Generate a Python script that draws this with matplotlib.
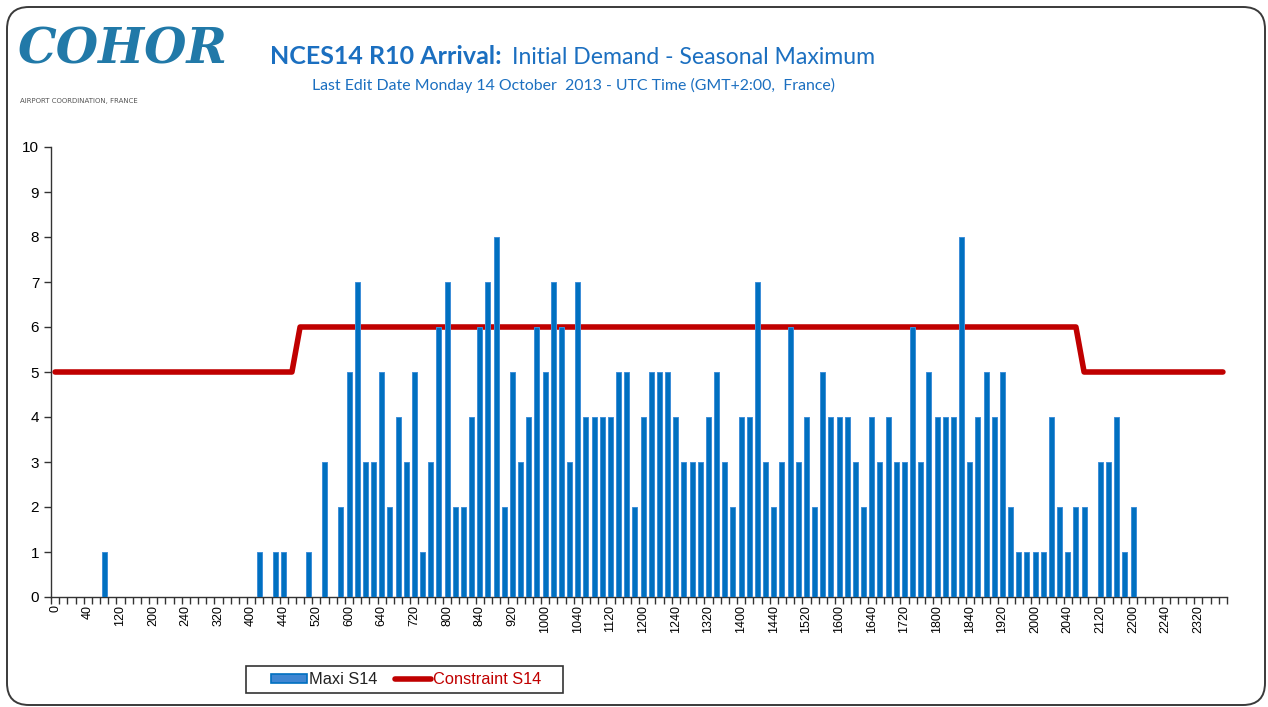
import matplotlib.pyplot as plt
import numpy as np
from matplotlib.patches import FancyBboxPatch, Patch, Rectangle
from matplotlib.lines import Line2D

# 10-minute slots, labelled as HHMM without leading zeros
slots = [h * 100 + m for h in range(24) for m in range(0, 60, 10)]
slot_labels = [str(s) for s in slots]

# Maxi S14 - seasonal maximum demand per 10 min slot
demand = [0, 0, 0, 0, 0, 0, 1, 0, 0, 0, 0, 0,          # 0000-0150
          0, 0, 0, 0, 0, 0, 0, 0, 0, 0, 0, 0,          # 0200-0350
          0, 1, 0, 1, 1, 0, 0, 1, 0, 3, 0, 2,          # 0400-0550
          5, 7, 3, 3, 5, 2, 4, 3, 5, 1, 3, 6,          # 0600-0750
          7, 2, 2, 4, 6, 7, 8, 2, 5, 3, 4, 6,          # 0800-0950
          5, 7, 6, 3, 7, 4, 4, 4, 4, 5, 5, 2,          # 1000-1150
          4, 5, 5, 5, 4, 3, 3, 3, 4, 5, 3, 2,          # 1200-1350
          4, 4, 7, 3, 2, 3, 6, 3, 4, 2, 5, 4,          # 1400-1550
          4, 4, 3, 2, 4, 3, 4, 3, 3, 6, 3, 5,          # 1600-1750
          4, 4, 4, 8, 3, 4, 5, 4, 5, 2, 1, 1,          # 1800-1950
          1, 1, 4, 2, 1, 2, 2, 0, 3, 3, 4, 1,          # 2000-2150
          2, 0, 0, 0, 0, 0, 0, 0, 0, 0, 0, 0]          # 2200-2350

# Constraint S14 - declared capacity per slot
constraint = [5] * 30 + [6] * 96 + [5] * 18

blue = '#0070C0'
red = '#C00000'
title_col = '#1B6FC0'
W, H = 1268, 707

fig = plt.figure(figsize=(12.68, 7.07), dpi=100)

# rounded frame around the whole chart
frame = FancyBboxPatch((0.07, 0.02), 12.58, 6.98,
                       boxstyle="round,pad=0,rounding_size=0.22",
                       transform=fig.dpi_scale_trans, fill=False,
                       edgecolor='#3a3a3a', linewidth=1.4)
fig.patches.append(frame)

# logo
fig.text(18 / W, 1 - 50 / H, "COHOR", fontsize=35, fontstyle='italic',
         fontweight='bold', family='DejaVu Serif', color='#2179A8',
         va='center', ha='left')
fig.text(20 / W, 1 - 101 / H, "AIRPORT COORDINATION, FRANCE", fontsize=5,
         family='Liberation Sans Narrow', color='#555555', va='center', ha='left')

# titles
fig.text(270 / W, 1 - 57 / H, "NCES14 R10 Arrival:", fontsize=18,
         fontweight='bold', family='Lato', color=title_col, va='center', ha='left')
fig.text(512 / W, 1 - 57 / H, "Initial Demand - Seasonal Maximum", fontsize=16.6,
         family='Lato', color=title_col, va='center', ha='left')
fig.text(573 / W, 1 - 85 / H,
         "Last Edit Date Monday 14 October  2013 - UTC Time (GMT+2:00,  France)",
         fontsize=11.4, family='Lato', color=title_col, va='center', ha='center')

ax = fig.add_axes([51 / W, 1 - 597 / H, (1227 - 51) / W, (597 - 147) / H])

x = np.arange(len(slots))
ax.plot(x, constraint, color=red, linewidth=4, solid_capstyle='round',
        solid_joinstyle='round', zorder=2)
ax.bar(x, demand, width=0.62, color=blue, edgecolor='#3f8ed8', linewidth=0.7, zorder=3)

ax.set_xlim(-0.5, len(slots) - 0.5)
ax.set_ylim(0, 10)
ax.set_yticks(range(0, 11))
ax.set_xticks(x[::4])
ax.set_xticklabels(slot_labels[::4], rotation=90, fontsize=9, family='Liberation Sans')
ax.set_xticks(np.arange(-0.5, len(slots)), minor=True)
ax.tick_params(axis='x', which='major', length=0, pad=6)
ax.tick_params(axis='x', which='minor', length=5, width=1, color='#333333')
ax.tick_params(axis='y', length=5, width=1, color='#333333', labelsize=11)
for lab in ax.get_yticklabels():
    lab.set_family('Liberation Sans')

for side in ['top', 'right']:
    ax.spines[side].set_visible(False)
for side in ['left', 'bottom']:
    ax.spines[side].set_color('#333333')
    ax.spines[side].set_linewidth(1)

# legend box drawn separately so its padding matches the original
fig.patches.append(Rectangle((246 / W, 1 - 693 / H), 317 / W, 27 / H,
                             transform=fig.transFigure, fill=False,
                             edgecolor='#333333', linewidth=1.2))
handles = [Patch(facecolor='#3f86d2', edgecolor=blue, linewidth=1.2),
           Line2D([0], [0], color=red, linewidth=4, solid_capstyle='round')]
leg = fig.legend(handles, ["Maxi S14", "Constraint S14"], loc='center',
                 bbox_to_anchor=(406 / W, 1 - 680 / H), ncol=2,
                 prop={'family': 'Liberation Sans', 'size': 11.8},
                 frameon=False, handlelength=2.2, handleheight=0.5,
                 handletextpad=0.12, columnspacing=1.1, borderpad=0.3)
leg.get_texts()[0].set_color('#222222')
leg.get_texts()[1].set_color(red)

fig.savefig("out.png", dpi=100)
